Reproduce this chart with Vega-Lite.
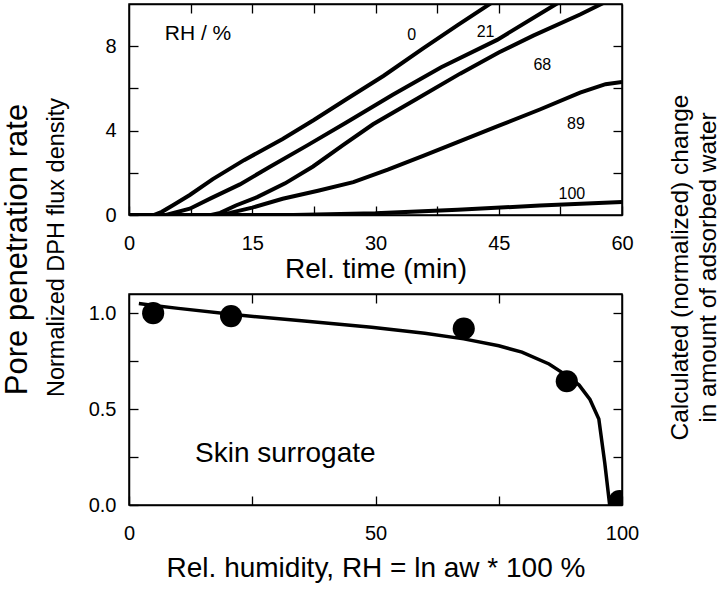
{
  "$schema": "https://vega.github.io/schema/vega-lite/v6.json",
  "background": "white",
  "padding": {"left": 0, "top": 2, "right": 0, "bottom": 0},
  "config": {
    "font": "Liberation Sans",
    "view": {"stroke": "black", "strokeWidth": 1.5},
    "axis": {
      "domainColor": "black", "domainWidth": 1.5,
      "tickColor": "black", "tickWidth": 1.3, "tickSize": -9,
      "labelColor": "black", "labelFont": "Liberation Sans", "labelFontSize": 20,
      "titleFont": "Liberation Sans", "titleFontSize": 28, "titleFontWeight": "normal", "titleColor": "black",
      "grid": false, "labelFlush": false, "labelOverlap": false
    }
  },
  "datasets": {
    "curves": [
      {"rh": "0", "t": 0, "v": 0}, {"rh": "0", "t": 3, "v": 0}, {"rh": "0", "t": 4, "v": 0.15}, {"rh": "0", "t": 5.5, "v": 0.5},
      {"rh": "0", "t": 7.4, "v": 0.95}, {"rh": "0", "t": 10.2, "v": 1.7}, {"rh": "0", "t": 14, "v": 2.6}, {"rh": "0", "t": 18.7, "v": 3.6},
      {"rh": "0", "t": 22.5, "v": 4.5}, {"rh": "0", "t": 26.5, "v": 5.5}, {"rh": "0", "t": 31, "v": 6.6}, {"rh": "0", "t": 35.8, "v": 7.9},
      {"rh": "0", "t": 40, "v": 9.0}, {"rh": "0", "t": 44.3, "v": 10.1},
      {"rh": "21", "t": 0, "v": 0}, {"rh": "21", "t": 4.5, "v": 0}, {"rh": "21", "t": 7.4, "v": 0.3}, {"rh": "21", "t": 10, "v": 0.8},
      {"rh": "21", "t": 13.5, "v": 1.45}, {"rh": "21", "t": 17, "v": 2.25}, {"rh": "21", "t": 21.7, "v": 3.3}, {"rh": "21", "t": 26.5, "v": 4.4},
      {"rh": "21", "t": 32.1, "v": 5.7}, {"rh": "21", "t": 38, "v": 7.0}, {"rh": "21", "t": 44.8, "v": 8.3}, {"rh": "21", "t": 52.2, "v": 10.05},
      {"rh": "68", "t": 0, "v": 0}, {"rh": "68", "t": 10, "v": 0}, {"rh": "68", "t": 11.1, "v": 0.1}, {"rh": "68", "t": 13, "v": 0.45},
      {"rh": "68", "t": 15.6, "v": 0.85}, {"rh": "68", "t": 19, "v": 1.5}, {"rh": "68", "t": 22.4, "v": 2.3}, {"rh": "68", "t": 26, "v": 3.3},
      {"rh": "68", "t": 29.7, "v": 4.3}, {"rh": "68", "t": 35, "v": 5.5}, {"rh": "68", "t": 40.3, "v": 6.7}, {"rh": "68", "t": 45, "v": 7.7},
      {"rh": "68", "t": 49.2, "v": 8.5}, {"rh": "68", "t": 54.9, "v": 9.5}, {"rh": "68", "t": 58, "v": 10.1},
      {"rh": "89", "t": 0, "v": 0}, {"rh": "89", "t": 11, "v": 0}, {"rh": "89", "t": 12.3, "v": 0.1}, {"rh": "89", "t": 15, "v": 0.35},
      {"rh": "89", "t": 18.7, "v": 0.77}, {"rh": "89", "t": 23, "v": 1.15}, {"rh": "89", "t": 27.3, "v": 1.56}, {"rh": "89", "t": 31.5, "v": 2.15},
      {"rh": "89", "t": 35.8, "v": 2.8}, {"rh": "89", "t": 40, "v": 3.45}, {"rh": "89", "t": 44.8, "v": 4.2}, {"rh": "89", "t": 50, "v": 5.0},
      {"rh": "89", "t": 54.9, "v": 5.8}, {"rh": "89", "t": 58, "v": 6.2}, {"rh": "89", "t": 60, "v": 6.3},
      {"rh": "100", "t": 0, "v": 0}, {"rh": "100", "t": 20, "v": 0}, {"rh": "100", "t": 30, "v": 0.08}, {"rh": "100", "t": 40, "v": 0.25},
      {"rh": "100", "t": 50, "v": 0.45}, {"rh": "100", "t": 60, "v": 0.62}
    ],
    "toplabels": [
      {"label": "RH / %", "t": 8.4, "v": 8.58},
      {"label": "0", "t": 34.4, "v": 8.53},
      {"label": "21", "t": 43.4, "v": 8.67},
      {"label": "68", "t": 50.3, "v": 7.1},
      {"label": "89", "t": 54.4, "v": 4.3},
      {"label": "100", "t": 53.9, "v": 1.0}
    ],
    "fit": [
      {"rh": 2, "v": 1.05}, {"rh": 5, "v": 1.04}, {"rh": 10, "v": 1.025}, {"rh": 22.2, "v": 0.99}, {"rh": 35, "v": 0.96},
      {"rh": 49.2, "v": 0.927}, {"rh": 60, "v": 0.895}, {"rh": 67.9, "v": 0.866}, {"rh": 75, "v": 0.83}, {"rh": 79.7, "v": 0.797},
      {"rh": 85.2, "v": 0.735}, {"rh": 88.5, "v": 0.68}, {"rh": 91.3, "v": 0.625}, {"rh": 93.5, "v": 0.55}, {"rh": 95.3, "v": 0.448},
      {"rh": 96.5, "v": 0.22}, {"rh": 97.5, "v": 0.0}
    ],
    "dots": [
      {"rh": 4.9, "v": 1.0}, {"rh": 20.7, "v": 0.985}, {"rh": 67.9, "v": 0.92}, {"rh": 88.8, "v": 0.645}, {"rh": 99.5, "v": 0.02}
    ],
    "note": [
      {"label": "Skin surrogate", "rh": 31.7, "v": 0.266}
    ]
  },
  "bounds": "flush",
  "spacing": 79,
  "vconcat": [
    {
      "width": 493,
      "height": 211,
      "layer": [
        {
          "data": {"name": "curves"},
          "mark": {"type": "line", "color": "black", "strokeWidth": 4, "clip": true},
          "encoding": {
            "x": {
              "field": "t", "type": "quantitative",
              "scale": {"domain": [0, 60], "nice": false},
              "axis": {
                "orient": "bottom",
                "values": [0, 7.5, 15, 22.5, 30, 37.5, 45, 52.5, 60],
                "labelExpr": "datum.value % 15 === 0 ? datum.label : ''",
                "labelPadding": 27,
                "title": "Rel. time (min)",
                "titlePadding": 2
              }
            },
            "y": {
              "field": "v", "type": "quantitative",
              "scale": {"domain": [0, 10], "nice": false},
              "axis": {
                "orient": "left",
                "values": [0, 2, 4, 6, 8],
                "labelExpr": "datum.value % 4 === 0 ? datum.label : ''",
                "labelPadding": 22,
                "title": "Pore penetration rate",
                "titleFontSize": 31,
                "titleAngle": 270,
                "titleAlign": "center",
                "titleBaseline": "middle",
                "titleX": -112,
                "titleY": 245
              }
            },
            "detail": {"field": "rh"}
          }
        },
        {
          "data": {"name": "toplabels"},
          "mark": {"type": "text", "color": "black", "font": "Liberation Sans", "align": "center", "baseline": "middle"},
          "encoding": {
            "x": {
              "field": "t", "type": "quantitative",
              "scale": {"domain": [0, 60], "nice": false},
              "axis": {
                "orient": "top",
                "values": [7.5, 15, 22.5, 30, 37.5, 45, 52.5],
                "labels": false,
                "title": null
              }
            },
            "y": {
              "field": "v", "type": "quantitative",
              "scale": {"domain": [0, 10], "nice": false},
              "axis": {
                "orient": "right",
                "values": [2, 4, 6, 8],
                "labels": false,
                "title": ["Calculated (normalized) change", "in amount of adsorbed water"],
                "titleFontSize": 24.5,
                "titleAngle": 270,
                "titleAlign": "center",
                "titleBaseline": "middle",
                "titleLineHeight": 28,
                "titleX": 58,
                "titleY": 263
              }
            },
            "text": {"field": "label"},
            "size": {"condition": {"test": "datum.label === 'RH / %'", "value": 21}, "value": 16}
          }
        }
      ],
      "resolve": {"axis": {"x": "independent", "y": "independent"}}
    },
    {
      "width": 493,
      "height": 211,
      "layer": [
        {
          "data": {"name": "fit"},
          "mark": {"type": "line", "color": "black", "strokeWidth": 3.5, "clip": true},
          "encoding": {
            "x": {
              "field": "rh", "type": "quantitative",
              "scale": {"domain": [0, 100], "nice": false},
              "axis": {
                "orient": "bottom",
                "values": [0, 25, 50, 75, 100],
                "labelExpr": "datum.value % 50 === 0 ? datum.label : ''",
                "labelPadding": 27,
                "title": "Rel. humidity, RH = ln aw * 100 %",
                "titlePadding": 11
              }
            },
            "y": {
              "field": "v", "type": "quantitative",
              "scale": {"domain": [0, 1.1], "nice": false},
              "axis": {
                "orient": "left",
                "values": [0, 0.25, 0.5, 0.75, 1],
                "labelExpr": "datum.value % 0.5 === 0 ? format(datum.value, '.1f') : ''",
                "labelPadding": 22,
                "title": "Normalized DPH flux density",
                "titleFontSize": 23.5,
                "titleAngle": 270,
                "titleAlign": "center",
                "titleBaseline": "middle",
                "titleX": -73,
                "titleY": -47
              }
            }
          }
        },
        {
          "data": {"name": "dots"},
          "mark": {"type": "point", "filled": true, "color": "black", "opacity": 1, "size": 490, "clip": true},
          "encoding": {
            "x": {
              "field": "rh", "type": "quantitative",
              "scale": {"domain": [0, 100], "nice": false},
              "axis": {
                "orient": "top",
                "values": [25, 50, 75],
                "labels": false,
                "title": null
              }
            },
            "y": {
              "field": "v", "type": "quantitative",
              "scale": {"domain": [0, 1.1], "nice": false},
              "axis": {
                "orient": "right",
                "values": [0.25, 0.5, 0.75, 1],
                "labels": false,
                "title": null
              }
            }
          }
        },
        {
          "data": {"name": "note"},
          "mark": {"type": "text", "color": "black", "fontSize": 28, "font": "Liberation Sans", "align": "center", "baseline": "middle"},
          "encoding": {
            "x": {"field": "rh", "type": "quantitative", "scale": {"domain": [0, 100], "nice": false}, "axis": null},
            "y": {"field": "v", "type": "quantitative", "scale": {"domain": [0, 1.1], "nice": false}, "axis": null},
            "text": {"field": "label"}
          }
        }
      ],
      "resolve": {"axis": {"x": "independent", "y": "independent"}}
    }
  ]
}
